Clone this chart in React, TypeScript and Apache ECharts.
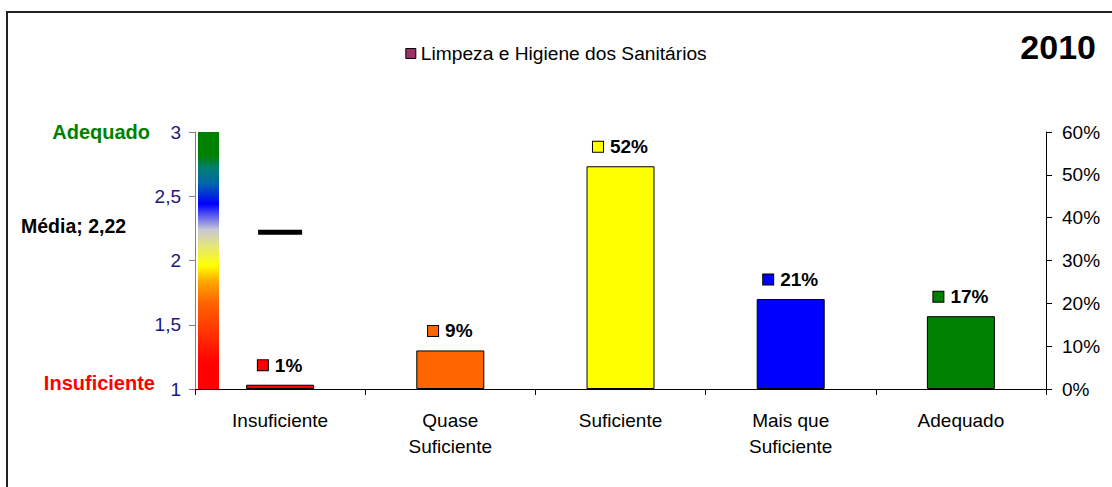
import React, { useEffect, useRef } from "react";
import * as echarts from "echarts";

const categories = ["Insuficiente", "Quase\nSuficiente", "Suficiente", "Mais que\nSuficiente", "Adequado"];
const percentValues = [1, 9, 52, 21, 17];
const barColors = ["#FF0000", "#FF6600", "#FFFF00", "#0000FF", "#008000"];
const meanValue = 2.22;
const seriesName = "Limpeza e Higiene dos Sanitários";
const yearLabel = "2010";
const leftTicks = { min: 1, max: 3, interval: 0.5 };
const rightTicks = { min: 0, max: 60, interval: 10 };
const scaleTopLabel = "Adequado";
const scaleBottomLabel = "Insuficiente";

const FONT = "'Liberation Sans', Arial, Helvetica, sans-serif";
const fmtComma = (v: number) => String(v).replace(".", ",");

export default function App() {
  const ref = useRef<HTMLDivElement>(null);
  useEffect(() => {
    if (!ref.current) return;
    const chart = echarts.init(ref.current, null, { renderer: "svg" });
    const option: any = {
      animation: false,
      backgroundColor: "#ffffff",
      textStyle: { fontFamily: FONT },
      legend: {
        data: [seriesName],
        left: "center",
        top: 39,
        icon: "rect",
        itemWidth: 10,
        itemHeight: 10,
        itemGap: 6,
        itemStyle: { borderColor: "#000", borderWidth: 1 },
        textStyle: { fontSize: 19.2, color: "#000", fontFamily: FONT },
        selectedMode: false,
      },
      grid: { left: 195, right: 66, top: 132, bottom: 98, containLabel: false },
      xAxis: {
        type: "category",
        data: categories,
        boundaryGap: true,
        axisLine: { lineStyle: { color: "#000", width: 1 } },
        axisTick: { show: true, length: 6, lineStyle: { color: "#000" } },
        axisLabel: { fontSize: 19, color: "#000", lineHeight: 26, margin: 18, interval: 0, fontFamily: FONT },
      },
      yAxis: [
        {
          type: "value",
          position: "left",
          min: leftTicks.min,
          max: leftTicks.max,
          interval: leftTicks.interval,
          axisLine: { show: true, lineStyle: { color: "#808080", width: 1 } },
          axisTick: { show: true, length: 6, lineStyle: { color: "#808080" } },
          splitLine: { show: false },
          axisLabel: { fontSize: 19, color: "#1a1a80", margin: 14, formatter: (v: number) => fmtComma(v), fontFamily: FONT },
        },
        {
          type: "value",
          position: "right",
          min: rightTicks.min,
          max: rightTicks.max,
          interval: rightTicks.interval,
          axisLine: { show: true, lineStyle: { color: "#000", width: 1 } },
          axisTick: { show: true, length: 6, lineStyle: { color: "#000" } },
          splitLine: { show: false },
          axisLabel: { fontSize: 19, color: "#000", margin: 16, formatter: "{value}%", fontFamily: FONT },
        },
      ],
      series: [
        {
          name: seriesName,
          type: "bar",
          yAxisIndex: 1,
          barWidth: 68,
          itemStyle: { color: "#993366", borderColor: "#000", borderWidth: 1 },
          data: percentValues.map((v, i) => ({
            value: v,
            itemStyle: { color: barColors[i], borderColor: "#000", borderWidth: 1 },
            label: {
              show: true,
              position: "top",
              distance: 10,
              formatter: `{s|}{g|}{v|${v}%}`,
              rich: {
                s: { width: 10, height: 10, backgroundColor: barColors[i], borderColor: "#000", borderWidth: 1 },
                g: { width: 7, height: 10 },
                v: { fontWeight: "bold", fontSize: 19, color: "#000", fontFamily: FONT },
              },
            },
          })),
        },
        {
          name: "Média",
          type: "scatter",
          yAxisIndex: 0,
          symbol: "rect",
          symbolSize: [44, 5],
          itemStyle: { color: "#000", opacity: 1 },
          data: [[0, meanValue]],
          silent: true,
        },
      ],
    };
    chart.setOption(option);

    const yTop = chart.convertToPixel({ yAxisIndex: 0 }, leftTicks.max) as number;
    const yBot = chart.convertToPixel({ yAxisIndex: 0 }, leftTicks.min) as number;
    const yMean = chart.convertToPixel({ yAxisIndex: 0 }, meanValue) as number;

    chart.setOption({
      graphic: [
        {
          type: "rect",
          shape: { x: 7, y: 12, width: 1200, height: 600 },
          style: { fill: "none", stroke: "#222", lineWidth: 2 },
          silent: true,
        },
        {
          type: "rect",
          shape: { x: 198, y: yTop, width: 21, height: yBot - yTop },
          style: {
            fill: new echarts.graphic.LinearGradient(0, 1, 0, 0, [
              { offset: 0, color: "#FF0000" },
              { offset: 0.1, color: "#FF0000" },
              { offset: 0.22, color: "#FF3300" },
              { offset: 0.34, color: "#FF6600" },
              { offset: 0.42, color: "#FFAA00" },
              { offset: 0.48, color: "#FFFF00" },
              { offset: 0.55, color: "#E8E870" },
              { offset: 0.62, color: "#C8C8D8" },
              { offset: 0.72, color: "#0000FF" },
              { offset: 0.8, color: "#0066AA" },
              { offset: 0.86, color: "#008070" },
              { offset: 0.91, color: "#008000" },
              { offset: 1, color: "#008000" },
            ]),
          },
          silent: true,
        },
        {
          type: "text",
          x: 150,
          y: yTop,
          style: { text: scaleTopLabel, fill: "#008000", font: `bold 20px ${FONT}`, align: "right", verticalAlign: "middle" },
        },
        {
          type: "text",
          x: 155,
          y: yBot - 6,
          style: { text: scaleBottomLabel, fill: "#FF0000", font: `bold 20px ${FONT}`, align: "right", verticalAlign: "middle" },
        },
        {
          type: "text",
          x: 21,
          y: yMean - 6,
          style: { text: `Média; ${fmtComma(meanValue)}`, fill: "#000", font: `bold 19.5px ${FONT}`, align: "left", verticalAlign: "middle" },
        },
        {
          type: "text",
          x: 1096,
          y: 47,
          style: { text: yearLabel, fill: "#000", font: `bold 34px ${FONT}`, align: "right", verticalAlign: "middle" },
        },
      ],
    });

    return () => chart.dispose();
  }, []);
  return (
    <div style={{ position: "absolute", left: 0, top: 0 }}>
      <div ref={ref} style={{ width: 1112, height: 487 }} />
    </div>
  );
}
